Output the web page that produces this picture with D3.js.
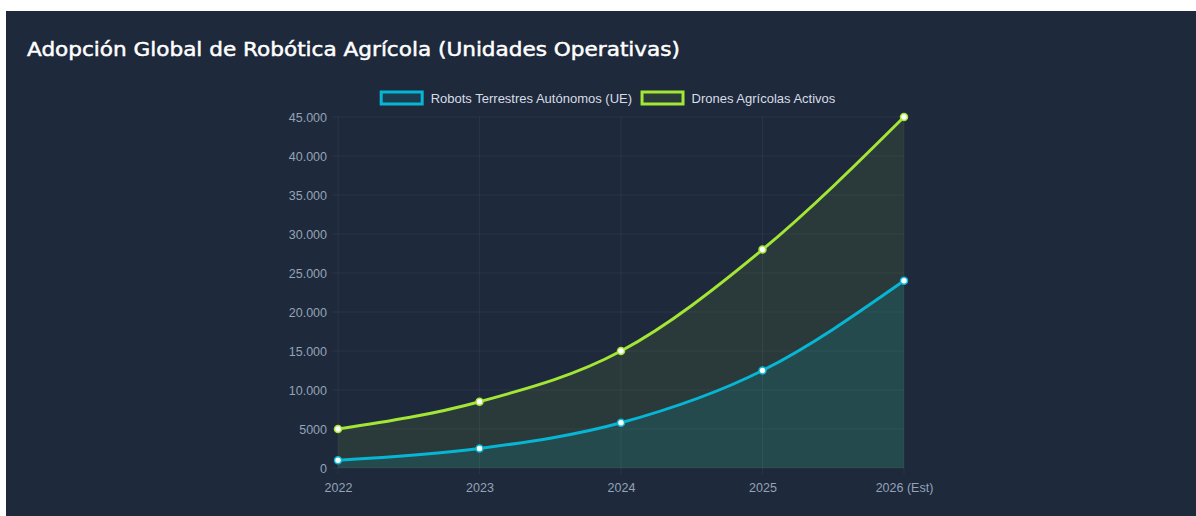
<!DOCTYPE html>
<html>
<head>
<meta charset="utf-8">
<script src="https://cdn.jsdelivr.net/npm/d3@7"></script>
<style>
  html, body { margin: 0; padding: 0; background: #ffffff; }
  svg { display: block; }
</style>
</head>
<body>
<svg id="chart" width="1196" height="516"></svg>
<script>
// Years on the x axis
const years = ["2022", "2023", "2024", "2025", "2026 (Est)"];
// Autonomous ground robots (EU)
const robots = [1000, 2500, 5800, 12500, 24000];
// Active agricultural drones
const drones = [5000, 8500, 15000, 28000, 45000];
// Y axis ticks
const yTicks = [0, 5000, 10000, 15000, 20000, 25000, 30000, 35000, 40000, 45000];

const seriesNames = ["Robots Terrestres Autónomos (UE)", "Drones Agrícolas Activos"];
const lineColors = ["#06b6d4", "#a3e635"];
const fillColors = ["rgba(6,182,212,0.13)", "rgba(163,230,53,0.09)"];

const W = 1196, H = 516;
const svg = d3.select("#chart");

// Card background
svg.append("rect").attr("x", 6).attr("y", 11).attr("width", W - 6).attr("height", H - 11)
  .attr("fill", "#1e293b");

// Title
svg.append("text")
  .attr("x", 27).attr("y", 56)
  .attr("fill", "#ffffff")
  .attr("stroke", "#ffffff")
  .attr("stroke-width", 0.5)
  .attr("font-family", "DejaVu Sans, sans-serif")
  .attr("font-size", 20)
  .attr("font-weight", 400)
  .attr("textLength", 653)
  .attr("lengthAdjust", "spacingAndGlyphs")
  .text("Adopción Global de Robótica Agrícola (Unidades Operativas)");

// Plot area
const plot = { left: 338, right: 904, top: 117, bottom: 468 };

const x = d3.scalePoint().domain(years).range([plot.left, plot.right]);
const y = d3.scaleLinear().domain([0, 45000]).range([plot.bottom, plot.top]);

const fmt = v => v >= 10000 ? d3.format(",")(v).replace(/,/g, ".") : String(v);

// Grid
const grid = svg.append("g");
grid.selectAll("line.h").data(yTicks).join("line")
  .attr("x1", plot.left - 6).attr("x2", plot.right)
  .attr("y1", d => y(d)).attr("y2", d => y(d))
  .attr("stroke", "rgba(255,255,255,0.05)").attr("stroke-width", 1);
grid.selectAll("line.v").data(years).join("line")
  .attr("x1", d => x(d)).attr("x2", d => x(d))
  .attr("y1", plot.top).attr("y2", plot.bottom + 6)
  .attr("stroke", "rgba(255,255,255,0.05)").attr("stroke-width", 1);

// Y axis labels
const yAxis = d3.axisLeft(y).tickValues(yTicks).tickFormat(fmt).tickSize(0).tickPadding(11);
const gy = svg.append("g").attr("transform", `translate(${plot.left},0)`).call(yAxis);
gy.select(".domain").remove();
gy.selectAll("text").attr("fill", "#94a3b8").attr("font-size", 12.5)
  .attr("font-family", "Liberation Sans, Arial, sans-serif");

// X axis labels
const xAxis = d3.axisBottom(x).tickSize(0).tickPadding(15);
const gx = svg.append("g").attr("transform", `translate(0,${plot.bottom})`).call(xAxis);
gx.select(".domain").remove();
gx.selectAll("text").attr("fill", "#94a3b8").attr("font-size", 12.5)
  .attr("font-family", "Liberation Sans, Arial, sans-serif");

const series = [robots, drones];
const curve = d3.curveMonotoneX;

const area = d3.area().x((d, i) => x(years[i])).y0(y(0)).y1(d => y(d)).curve(curve);
const line = d3.line().x((d, i) => x(years[i])).y(d => y(d)).curve(curve);

// Areas (drones behind robots)
[1, 0].forEach(k => {
  svg.append("path").datum(series[k]).attr("d", area).attr("fill", fillColors[k]);
});
[1, 0].forEach(k => {
  svg.append("path").datum(series[k]).attr("d", line)
    .attr("fill", "none").attr("stroke", lineColors[k]).attr("stroke-width", 3);
});
[1, 0].forEach(k => {
  svg.append("g").selectAll("circle").data(series[k]).join("circle")
    .attr("cx", (d, i) => x(years[i])).attr("cy", d => y(d)).attr("r", 3.5)
    .attr("fill", "#ffffff").attr("stroke", lineColors[k]).attr("stroke-width", 1.5);
});

// Legend
const legend = svg.append("g").attr("font-family", "Liberation Sans, Arial, sans-serif")
  .attr("font-size", 13);
const items = legend.selectAll("g").data(seriesNames).join("g");
items.append("rect").attr("x", 1.5).attr("y", -6).attr("width", 41).attr("height", 12)
  .attr("fill", (d, i) => fillColors[i]).attr("stroke", (d, i) => lineColors[i]).attr("stroke-width", 3);
items.append("text").attr("x", 51).attr("y", 4.5).attr("fill", "#d7dde6").text(d => d);
const widths = [];
items.each(function () { widths.push(this.getBBox().width); });
const gap = 10;
const total = d3.sum(widths) + gap * (widths.length - 1);
let lx = 607 - total / 2;
items.attr("transform", (d, i) => {
  const t = `translate(${lx},98)`;
  lx += widths[i] + gap;
  return t;
});
</script>
</body>
</html>
